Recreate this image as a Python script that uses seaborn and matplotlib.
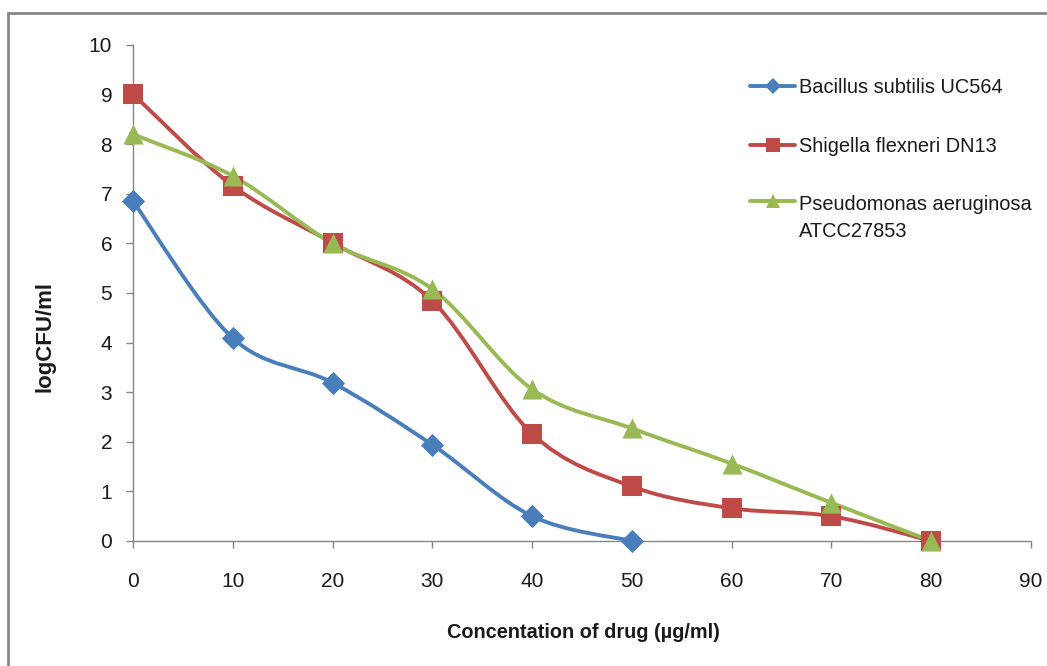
import numpy as np
import matplotlib
matplotlib.use("Agg")
import matplotlib.pyplot as plt
import seaborn as sns
from matplotlib.path import Path
from matplotlib.patches import PathPatch, Rectangle
from matplotlib.lines import Line2D
from matplotlib.legend_handler import HandlerLine2D

# Viable counts (logCFU/ml) at each drug concentration (µg/ml)
concentration = [0, 10, 20, 30, 40, 50, 60, 70, 80]
bacillus = [6.85, 4.09, 3.19, 1.94, 0.50, 0.0]
shigella = [9.01, 7.16, 6.01, 4.84, 2.16, 1.10, 0.66, 0.50, 0.0]
pseudomonas = [8.20, 7.36, 6.00, 5.08, 3.06, 2.27, 1.56, 0.77, 0.0]

series_names = ["Bacillus subtilis UC564", "Shigella flexneri DN13",
                "Pseudomonas aeruginosa\nATCC27853"]
series_values = [bacillus, shigella, pseudomonas]
colors = ["#4A7EBB", "#BE4B48", "#98B954"]
markers = ["D", "s", "^"]
marker_sizes = [140, 190, 210]
x_ticks = [0, 10, 20, 30, 40, 50, 60, 70, 80, 90]
y_ticks = [0, 1, 2, 3, 4, 5, 6, 7, 8, 9, 10]
x_title = "Concentation of drug (µg/ml)"
y_title = "logCFU/ml"

sns.set_style("ticks")
plt.rcParams["font.family"] = ["Liberation Sans", "DejaVu Sans"]

W, H = 1047, 666
fig = plt.figure(figsize=(W / 100, H / 100), dpi=100)
ax = fig.add_axes([133 / W, 1 - 541 / H, (1031 - 133) / W, (541 - 45) / H])


def smooth_path(xs, ys):
    """Cubic Bezier path through the points (Catmull-Rom style tangents)."""
    pts = np.column_stack([xs, ys]).astype(float)
    n = len(pts)
    verts = [pts[0]]
    codes = [Path.MOVETO]
    for i in range(n - 1):
        p0 = pts[max(i - 1, 0)]
        p1 = pts[i]
        p2 = pts[i + 1]
        p3 = pts[min(i + 2, n - 1)]
        verts += [p1 + (p2 - p0) / 6.0, p2 - (p3 - p1) / 6.0, p2]
        codes += [Path.CURVE4] * 3
    return Path(verts, codes)


class RaisedLineHandler(HandlerLine2D):
    """Legend line handle lifted to sit beside the first line of a wrapped label."""

    def __init__(self, rise, **kw):
        super().__init__(**kw)
        self.rise = rise

    def create_artists(self, legend, orig_handle, xdescent, ydescent,
                       width, height, fontsize, trans):
        artists = super().create_artists(legend, orig_handle, xdescent, ydescent,
                                         width, height, fontsize, trans)
        for a in artists:
            a.set_ydata(np.asarray(a.get_ydata(), dtype=float) + self.rise)
        return artists


line_w = 2.8
handles = []
for name, vals, col, mk, ms in zip(series_names, series_values, colors, markers, marker_sizes):
    xs = concentration[:len(vals)]
    patch = PathPatch(smooth_path(xs, vals), facecolor="none", edgecolor=col,
                      linewidth=line_w, capstyle="round", joinstyle="round",
                      clip_on=False, zorder=2)
    ax.add_patch(patch)
    sns.scatterplot(x=xs, y=vals, marker=mk, color=col, s=ms, linewidth=0,
                    ax=ax, zorder=3, clip_on=False, legend=False)
    handles.append(Line2D([], [], color=col, linewidth=line_w, marker=mk,
                          markersize=np.sqrt(ms) * 0.72, markeredgewidth=0,
                          label=name))

ax.set_xlim(0, 90)
ax.set_ylim(0, 10)
ax.set_xticks(x_ticks)
ax.set_yticks(y_ticks)

axis_grey = "#868686"
for side in ["top", "right"]:
    ax.spines[side].set_visible(False)
for side in ["left", "bottom"]:
    ax.spines[side].set_color(axis_grey)
    ax.spines[side].set_linewidth(1.0)
ax.tick_params(axis="both", direction="out", length=5, width=1.0,
               color=axis_grey, labelsize=15, labelcolor="#1a1a1a")
ax.tick_params(axis="x", pad=17)
ax.tick_params(axis="y", pad=10)
ax.set_xlabel("")
ax.set_ylabel("")

fig.text(583 / W, 1 - 632 / H, x_title, ha="center", va="center",
         fontsize=14.3, fontweight="bold", color="#1a1a1a")
fig.text(45 / W, 1 - 337 / H, y_title, ha="center", va="center",
         rotation=90, fontsize=16, fontweight="bold", color="#1a1a1a")

leg_fs = 14.4
leg = fig.legend(handles=handles, loc="upper left",
                 bbox_to_anchor=(750 / W, 1 - 78 / H),
                 frameon=False, fontsize=leg_fs, handlelength=2.25,
                 handletextpad=0.2, labelspacing=1.98, borderaxespad=0,
                 borderpad=0,
                 handler_map={handles[2]: RaisedLineHandler(rise=12.6)})
for t in leg.get_texts():
    t.set_color("#1a1a1a")
    t.set_linespacing(1.5)

# Chart area outline
fig.patches.append(Rectangle((8 / W, -0.1), 1.2, 1 - 13 / H + 0.1,
                             transform=fig.transFigure, fill=False,
                             edgecolor=axis_grey, linewidth=2.0))

fig.savefig("out.png", dpi=100)
